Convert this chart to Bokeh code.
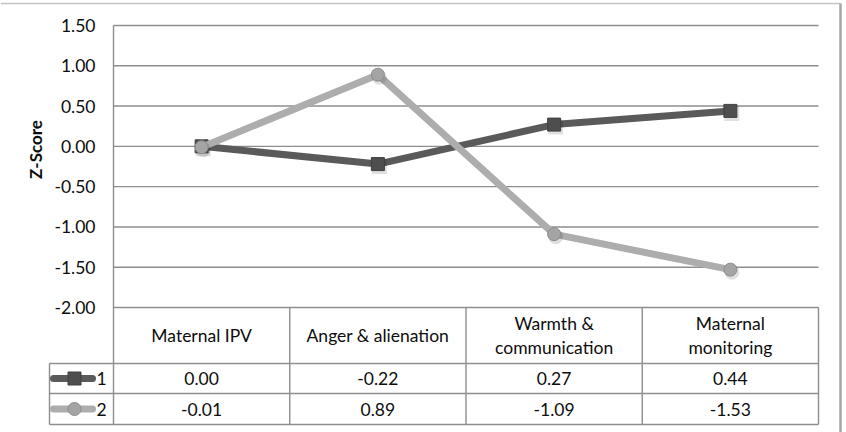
import math

from bokeh.core.properties import value
from bokeh.embed import file_html
from bokeh.models import Range1d
from bokeh.plotting import figure
from bokeh.resources import INLINE

# ---- data -------------------------------------------------------------
categories = ["Maternal IPV", "Anger & alienation", "Warmth & communication", "Maternal monitoring"]
category_labels = ["Maternal IPV", "Anger & alienation", "Warmth &\ncommunication", "Maternal\nmonitoring"]
series_names = ["1", "2"]
series_1 = [0.00, -0.22, 0.27, 0.44]
series_2 = [-0.01, 0.89, -1.09, -1.53]
y_ticks = [-2.0, -1.5, -1.0, -0.5, 0.0, 0.5, 1.0, 1.5]
y_tick_labels = ["-2.00", "-1.50", "-1.00", "-0.50", "0.00", "0.50", "1.00", "1.50"]
y_title = "Z-Score"

# ---- layout (pixels) ----------------------------------------------------
W, H = 846, 432
PX_L, PX_R = 113, 818          # plot area / table columns
PY_T, PY_B = 25, 307           # plot area top (1.50) and bottom (-2.00)
Y_MIN, Y_MAX = y_ticks[0], y_ticks[-1]
n = len(categories)
ux = (PX_R - PX_L) / n
uy = (PY_B - PY_T) / (Y_MAX - Y_MIN)


def xv(px):
    return (px - PX_L) / ux


def yv(py):
    return Y_MAX - (py - PY_T) / uy


FONT = value("Lato")
FS = "17.5px"
TXT = "#0d0d0d"
GRID = "#8e8e8e"
S1_LINE, S1_MARK, S1_EDGE = "#5a5a5a", "#4e4e4e", "#404040"
S2_LINE, S2_MARK, S2_EDGE = "#adadad", "#a4a4a4", "#8c8c8c"

p = figure(
    width=W, height=H,
    x_range=Range1d(xv(0), xv(W)), y_range=Range1d(yv(H), yv(0)),
    x_axis_location=None, y_axis_location=None,
    min_border=0, min_border_left=0, min_border_right=0,
    min_border_top=0, min_border_bottom=0,
    output_backend="svg", toolbar_location=None,
)
p.grid.visible = False
p.outline_line_color = None
p.background_fill_color = "white"
p.border_fill_color = "white"

# outer chart border (top and right edges)
p.segment(x0=[xv(0)], y0=[yv(3)], x1=[xv(840)], y1=[yv(3)], line_color="#c4c4c4", line_width=1.5)
p.segment(x0=[xv(840)], y0=[yv(3)], x1=[xv(840)], y1=[yv(H)], line_color="#a6a6a6", line_width=2.5)

# horizontal gridlines and y tick labels
p.segment(x0=0, x1=n, y0=y_ticks, y1=y_ticks, line_color=GRID, line_width=1.4)
p.text(x=[xv(95)] * len(y_ticks), y=y_ticks, text=y_tick_labels,
       text_align="right", text_baseline="middle",
       text_font=FONT, text_font_size=FS, text_color=TXT)

# y axis title
p.text(x=[xv(35)], y=[yv(149)], text=[y_title], angle=math.pi / 2,
       text_align="center", text_baseline="middle",
       text_font=FONT, text_font_size="17px", text_font_style="bold", text_color=TXT)

# ---- data table below the plot -----------------------------------------
row_top = [yv(307), yv(363), yv(393)]
row_bot = [yv(363), yv(393), yv(424)]
legend_left = xv(49)
# left axis line down through the table
p.segment(x0=[0], y0=[Y_MAX], x1=[0], y1=[yv(424)], line_color=GRID, line_width=1.4)
# column dividers
p.segment(x0=list(range(1, n + 1)), y0=[Y_MIN] * n, x1=list(range(1, n + 1)), y1=[yv(424)] * n,
          line_color=GRID, line_width=1.4)
# row lines for the series rows (including the legend column)
p.segment(x0=[legend_left] * 3, y0=[row_top[1], row_top[2], row_bot[2]],
          x1=[n] * 3, y1=[row_top[1], row_top[2], row_bot[2]],
          line_color=GRID, line_width=1.4)
p.segment(x0=[legend_left], y0=[row_top[1]], x1=[legend_left], y1=[row_bot[2]],
          line_color=GRID, line_width=1.4)

cx = [i + 0.5 for i in range(n)]
# category header
p.text(x=cx, y=[(row_top[0] + row_bot[0]) / 2] * n, text=category_labels,
       text_align="center", text_baseline="middle", text_line_height=1.15,
       text_font=FONT, text_font_size=FS, text_color=TXT)

series = [
    (series_1, "square", S1_LINE, S1_MARK, S1_EDGE, 13),
    (series_2, "circle", S2_LINE, S2_MARK, S2_EDGE, 13),
]
for k, (vals, marker, lc, mc, ec, ms) in enumerate(series):
    ry = (row_top[k + 1] + row_bot[k + 1]) / 2
    # values row
    p.text(x=cx, y=[ry] * n, text=[f"{v:.2f}" for v in vals],
           text_align="center", text_baseline="middle",
           text_font=FONT, text_font_size=FS, text_color=TXT)
    # legend key
    p.segment(x0=[xv(53)], y0=[ry], x1=[xv(92)], y1=[ry], line_color=lc, line_width=7, line_cap="round")
    p.scatter(x=[xv(74)], y=[ry], marker=marker, size=ms, fill_color=mc, line_color=ec, line_width=1)
    p.text(x=[xv(96)], y=[ry], text=[series_names[k]], text_align="left", text_baseline="middle",
           text_font=FONT, text_font_size=FS, text_color=TXT)

# ---- series lines with markers ------------------------------------------
for vals, marker, lc, mc, ec, ms in series:
    p.line(x=cx, y=vals, line_color=lc, line_width=7, line_join="round")
    p.scatter(x=[c + 1.5 / ux for c in cx], y=[v - 2.5 / uy for v in vals], marker=marker,
              size=ms + 2, fill_color="black", fill_alpha=0.12, line_color=None)
    p.scatter(x=cx, y=vals, marker=marker, size=ms, fill_color=mc, line_color=ec, line_width=1)

open("out.html", "w").write(file_html(p, INLINE))
